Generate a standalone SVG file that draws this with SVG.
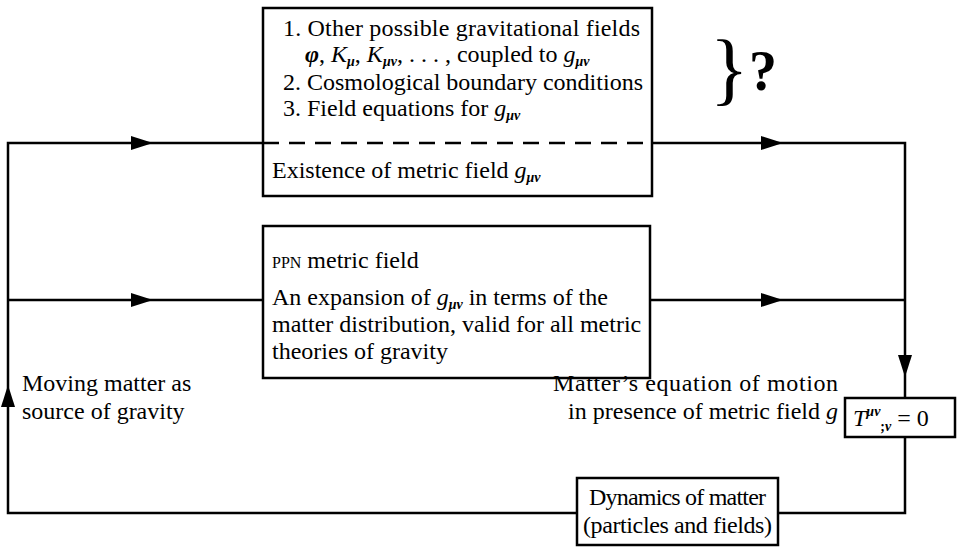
<svg xmlns="http://www.w3.org/2000/svg" width="962" height="548" viewBox="0 0 962 548">
<style>
.t{font-family:"Liberation Serif","Times New Roman",serif;font-size:24px;fill:#000}
.i{font-style:italic}
.s{font-size:14px;font-style:italic;font-weight:bold}
.box{fill:#fff;stroke:#000;stroke-width:2.5}
.ln{fill:none;stroke:#000;stroke-width:2.5}
</style>
<defs>
<marker id="ah" viewBox="0 0 22 14" refX="22" refY="7" markerWidth="22" markerHeight="14" markerUnits="userSpaceOnUse" orient="auto"><path d="M0,0 L22,7 L0,14 z" fill="#000"/></marker>
</defs>
<g id="connectors">
<path class="ln" d="M577,513 H8 V385" marker-end="url(#ah)"/>
<path class="ln" d="M8,385 V143 H153" marker-end="url(#ah)"/>
<path class="ln" d="M153,143 H263"/>
<path class="ln" d="M8,300 H153" marker-end="url(#ah)"/>
<path class="ln" d="M153,300 H263"/>
<path class="ln" d="M652,143 H783" marker-end="url(#ah)"/>
<path class="ln" d="M783,143 H905 V377" marker-end="url(#ah)"/>
<path class="ln" d="M905,377 V398"/>
<path class="ln" d="M650,300 H783" marker-end="url(#ah)"/>
<path class="ln" d="M783,300 H905"/>
<path class="ln" d="M905,437 V513 H715" marker-end="url(#ah)"/>
<path class="ln" d="M715,513 H778"/>
</g>
<g id="gravity-fields">
<rect class="box" x="263" y="8" width="389" height="188"/>
<line x1="263" y1="143" x2="652" y2="143" stroke="#000" stroke-width="2.5" stroke-dasharray="16 10"/>
<text class="t" x="283" y="36" textLength="357">1.  Other possible gravitational fields</text>
<text class="t" x="305" y="62"><tspan class="i" font-weight="bold">φ</tspan>, <tspan class="i">K</tspan><tspan class="s" dy="4">μ</tspan><tspan dy="-4">, </tspan><tspan class="i">K</tspan><tspan class="s" dy="4">μν</tspan><tspan dy="-4">, . . . , coupled to </tspan><tspan class="i">g</tspan><tspan class="s" dy="4">μν</tspan></text>
<text class="t" x="283" y="90">2.  Cosmological boundary conditions</text>
<text class="t" x="283" y="116">3.  Field equations for <tspan class="i">g</tspan><tspan class="s" dy="4">μν</tspan></text>
<text class="t" x="272" y="178">Existence of metric field <tspan class="i">g</tspan><tspan class="s" dy="4">μν</tspan></text>
</g>
<g id="question">
<text class="t" x="710" y="95" style="font-size:80px">}</text>
<text class="t" x="749" y="90" style="font-size:56px;font-weight:bold">?</text>
</g>
<g id="ppn-field">
<rect class="box" x="263" y="226" width="387" height="152"/>
<text class="t" x="272" y="268"><tspan style="font-size:16px">PPN</tspan> metric field</text>
<text class="t" x="272" y="305">An expansion of <tspan class="i">g</tspan><tspan class="s" dy="4">μν</tspan><tspan dy="-4"> in terms of the</tspan></text>
<text class="t" x="272" y="332">matter distribution, valid for all metric</text>
<text class="t" x="272" y="359">theories of gravity</text>
</g>
<g id="moving-matter-label">
<text class="t" x="22" y="391">Moving matter as</text>
<text class="t" x="22" y="419">source of gravity</text>
</g>
<g id="eom-label">
<text class="t" x="553" y="391" textLength="285">Matter’s equation of motion</text>
<text class="t" x="838" y="419" text-anchor="end">in presence of metric field <tspan class="i">g</tspan></text>
</g>
<g id="eom">
<rect class="box" x="845" y="398" width="110" height="39"/>
<text class="t" x="853" y="426"><tspan class="i">T</tspan><tspan class="s" dy="-10">μν</tspan><tspan class="s" dy="15" style="font-style:normal">;</tspan><tspan class="s">ν</tspan><tspan dy="-5"> = 0</tspan></text>
</g>
<g id="dynamics">
<rect class="box" x="577" y="478" width="201" height="67"/>
<text class="t" x="589" y="505" textLength="177">Dynamics of matter</text>
<text class="t" x="583" y="533" textLength="189">(particles and fields)</text>
</g>
</svg>
